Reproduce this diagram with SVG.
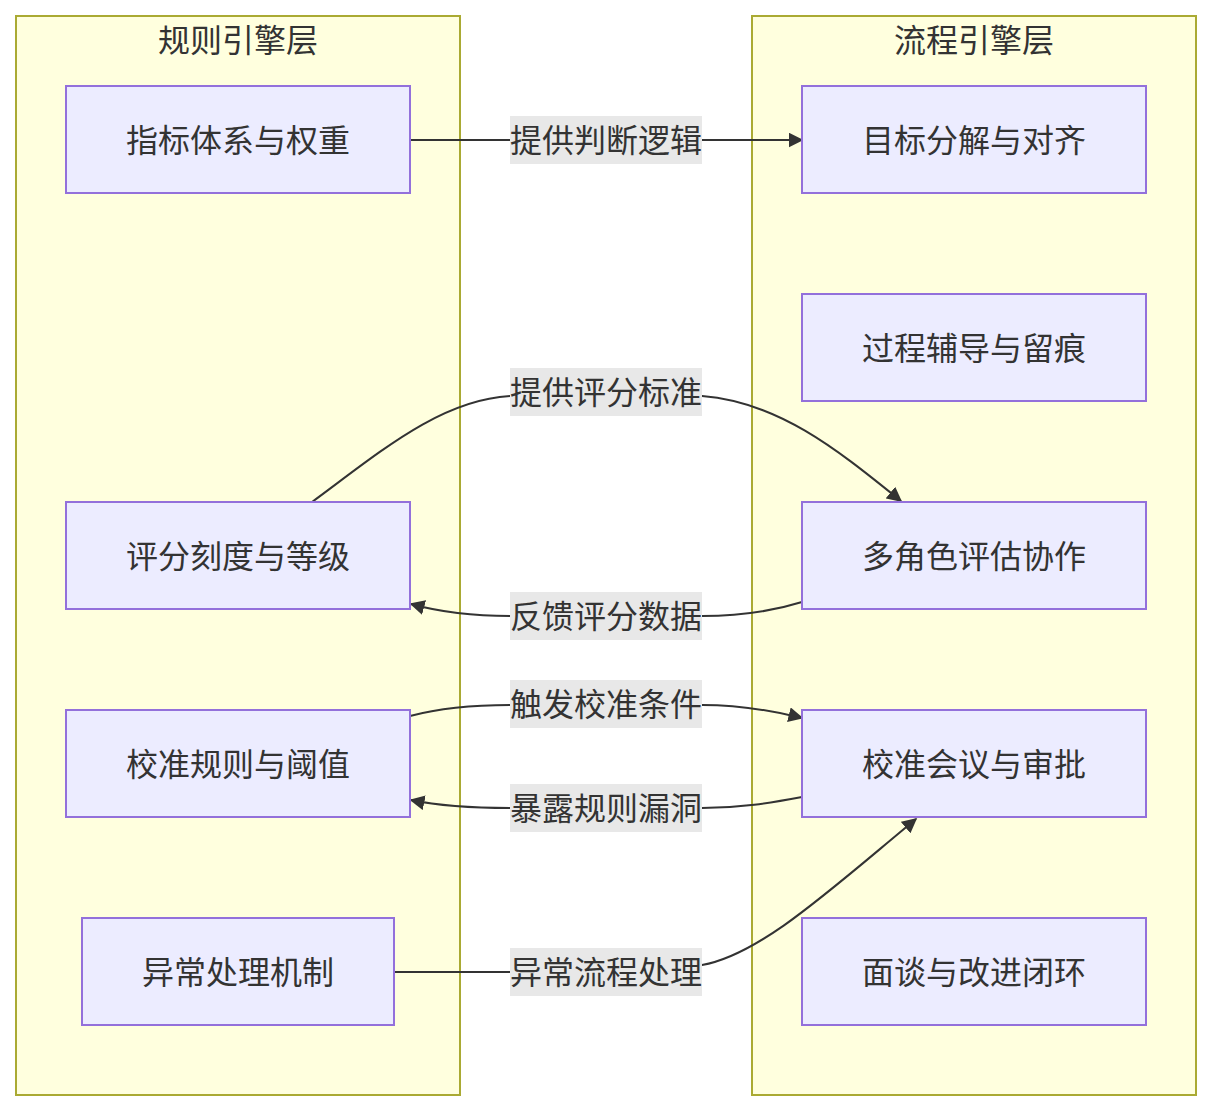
<svg xmlns="http://www.w3.org/2000/svg" width="1212" height="1112" viewBox="0 0 1212 1112">
<style>
.cluster{fill:#ffffde;stroke:#aaaa33;stroke-width:2}
.node rect{fill:#ececff;stroke:#9370db;stroke-width:2}
text{font-family:"Noto Sans CJK SC","Noto Sans",sans-serif;font-size:32px;fill:#333;text-anchor:middle;dominant-baseline:central}
.edge{fill:none;stroke:#333;stroke-width:2}
.lbl{fill:#e8e8e8}
</style>
<defs>
<marker id="arr" viewBox="0 0 10 10" refX="9" refY="5" markerUnits="userSpaceOnUse" markerWidth="15" markerHeight="15" orient="auto">
<path d="M0,0 L10,5 L0,10 z" fill="#333"/>
</marker>
</defs>
<rect width="1212" height="1112" fill="#fff"/>
<g id="cluster-rule">
<rect class="cluster" x="16" y="16" width="444" height="1079"/>
<text x="238" y="38">规则引擎层</text>
</g>
<g id="cluster-flow">
<rect class="cluster" x="752" y="16" width="444" height="1079"/>
<text x="974" y="38">流程引擎层</text>
</g>
<g id="edges">
<path class="edge" d="M410,140 L802,140" marker-end="url(#arr)"/>
<path class="edge" d="M312,502 C380,452 440,400 510,396 L702,396 C780,402 840,452 901,501" marker-end="url(#arr)"/>
<path class="edge" d="M802,602 C770,612 740,616 702,616 L510,616 C470,616 440,612 411,604" marker-end="url(#arr)"/>
<path class="edge" d="M410,716 C440,708 470,705 510,705 L702,705 C740,705 770,710 802,718" marker-end="url(#arr)"/>
<path class="edge" d="M802,797 C770,803 740,808 702,808 L510,808 C470,808 440,806 411,800" marker-end="url(#arr)"/>
<path class="edge" d="M394,972 L510,972 L702,965 C760,955 830,890 916,819" marker-end="url(#arr)"/>
<g id="edge-labels">
<rect class="lbl" x="510" y="116" width="192" height="48"/><text x="606" y="138">提供判断逻辑</text>
<rect class="lbl" x="510" y="368" width="192" height="48"/><text x="606" y="390">提供评分标准</text>
<rect class="lbl" x="510" y="592" width="192" height="48"/><text x="606" y="614">反馈评分数据</text>
<rect class="lbl" x="510" y="680" width="192" height="48"/><text x="606" y="702">触发校准条件</text>
<rect class="lbl" x="510" y="784" width="192" height="48"/><text x="606" y="806">暴露规则漏洞</text>
<rect class="lbl" x="510" y="948" width="192" height="48"/><text x="606" y="970">异常流程处理</text>
</g>
</g>
<g id="n-indicator" class="node"><rect x="66" y="86" width="344" height="107"/><text x="238" y="138">指标体系与权重</text></g>
<g id="n-scale" class="node"><rect x="66" y="502" width="344" height="107"/><text x="238" y="554">评分刻度与等级</text></g>
<g id="n-calrule" class="node"><rect x="66" y="710" width="344" height="107"/><text x="238" y="762">校准规则与阈值</text></g>
<g id="n-exception" class="node"><rect x="82" y="918" width="312" height="107"/><text x="238" y="970">异常处理机制</text></g>
<g id="n-goal" class="node"><rect x="802" y="86" width="344" height="107"/><text x="974" y="138">目标分解与对齐</text></g>
<g id="n-coach" class="node"><rect x="802" y="294" width="344" height="107"/><text x="974" y="346">过程辅导与留痕</text></g>
<g id="n-multi" class="node"><rect x="802" y="502" width="344" height="107"/><text x="974" y="554">多角色评估协作</text></g>
<g id="n-meeting" class="node"><rect x="802" y="710" width="344" height="107"/><text x="974" y="762">校准会议与审批</text></g>
<g id="n-review" class="node"><rect x="802" y="918" width="344" height="107"/><text x="974" y="970">面谈与改进闭环</text></g>
</svg>
